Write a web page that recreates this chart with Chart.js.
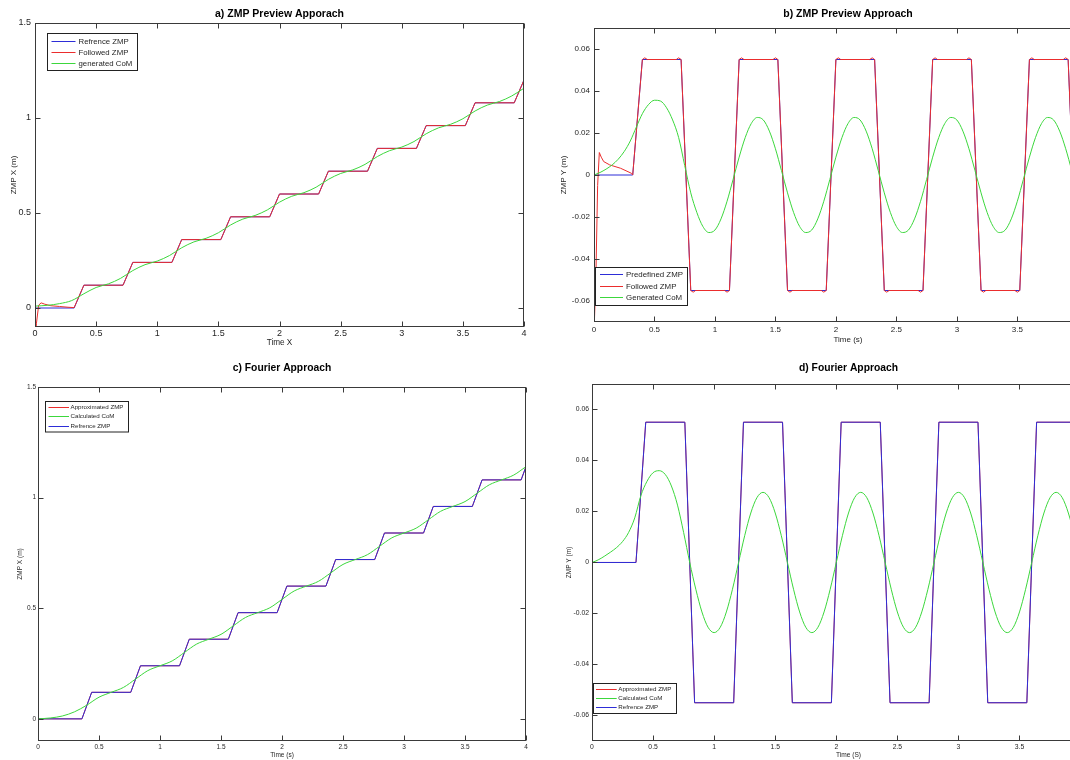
<!DOCTYPE html>
<html>
<head>
<meta charset="utf-8">
<script src="https://cdn.jsdelivr.net/npm/chart.js@4.4.1/dist/chart.umd.min.js"></script>
<style>
  html, body { margin: 0; padding: 0; background: #fff; }
  #fig { position: relative; width: 1070px; height: 760px; overflow: hidden; background: #fff; }
  #fig canvas { position: absolute; }
</style>
</head>
<body>
<div id="fig">
  <canvas id="cA" width="540" height="352" style="left:0;top:0"></canvas>
  <canvas id="cB" width="600" height="352" style="left:540px;top:0"></canvas>
  <canvas id="cC" width="540" height="405" style="left:0;top:355px"></canvas>
  <canvas id="cD" width="600" height="405" style="left:540px;top:355px"></canvas>
</div>
<script>
// ---- data ----
const xTicks = [0, 0.5, 1, 1.5, 2, 2.5, 3, 3.5, 4];
const yTicksX = [0, 0.5, 1, 1.5];
const yTicksY = [-0.06, -0.04, -0.02, 0, 0.02, 0.04, 0.06];

// sample times of the CoM curves
const t10 = [0, 0.1, 0.2, 0.3, 0.4, 0.5, 0.6, 0.7, 0.8, 0.9, 1, 1.1, 1.2, 1.3, 1.4, 1.5, 1.6, 1.7, 1.8, 1.9,
  2, 2.1, 2.2, 2.3, 2.4, 2.5, 2.6, 2.7, 2.8, 2.9, 3, 3.1, 3.2, 3.3, 3.4, 3.5, 3.6, 3.7, 3.8, 3.9, 4];
const t05 = [0, 0.05, 0.1, 0.15, 0.2, 0.25, 0.3, 0.35, 0.4, 0.45, 0.5, 0.55, 0.6, 0.65, 0.7, 0.75, 0.8, 0.85,
  0.9, 0.95, 1, 1.05, 1.1, 1.15, 1.2, 1.25, 1.3, 1.35, 1.4, 1.45, 1.5, 1.55, 1.6, 1.65, 1.7, 1.75, 1.8, 1.85,
  1.9, 1.95, 2, 2.05, 2.1, 2.15, 2.2, 2.25, 2.3, 2.35, 2.4, 2.45, 2.5, 2.55, 2.6, 2.65, 2.7, 2.75, 2.8, 2.85,
  2.9, 2.95, 3, 3.05, 3.1, 3.15, 3.2, 3.25, 3.3, 3.35, 3.4, 3.45, 3.5, 3.55, 3.6, 3.65, 3.7, 3.75, 3.8, 3.85,
  3.9, 3.95, 4];

// a) preview approach, X
const aRefT = [0, 0.32, 0.40, 0.72, 0.80, 1.12, 1.20, 1.52, 1.60, 1.92, 2.00, 2.32, 2.40, 2.72, 2.80, 3.12, 3.20, 3.52, 3.60, 3.92, 4.00];
const aRefX = [0, 0, 0.12, 0.12, 0.24, 0.24, 0.36, 0.36, 0.48, 0.48, 0.60, 0.60, 0.72, 0.72, 0.84, 0.84, 0.96, 0.96, 1.08, 1.08, 1.20];
const aFolT = [0, 0.012, 0.03, 0.05, 0.08, 0.13, 0.2, 0.27, 0.32, 0.40, 0.72, 0.80, 1.12, 1.20, 1.52, 1.60, 1.92, 2.00,
  2.32, 2.40, 2.72, 2.80, 3.12, 3.20, 3.52, 3.60, 3.92, 4.00];
const aFolX = [-0.2, -0.08, 0.015, 0.027, 0.02, 0.012, 0.008, 0.004, 0.002, 0.12, 0.12, 0.24, 0.24, 0.36, 0.36, 0.48, 0.48,
  0.60, 0.60, 0.72, 0.72, 0.84, 0.84, 0.96, 0.96, 1.08, 1.08, 1.20];
const aCom = [0.01, 0.014, 0.023, 0.039, 0.075, 0.108, 0.127, 0.156, 0.197, 0.228, 0.247, 0.276, 0.317, 0.348, 0.367,
  0.396, 0.437, 0.468, 0.487, 0.516, 0.557, 0.588, 0.607, 0.636, 0.677, 0.708, 0.727, 0.756, 0.797, 0.828, 0.847,
  0.876, 0.917, 0.948, 0.967, 0.996, 1.037, 1.068, 1.087, 1.116, 1.157];

// b) preview approach, Y
const bRefT = [0, 0.32, 0.40, 0.72, 0.80, 1.12, 1.20, 1.52, 1.60, 1.92, 2.00, 2.32, 2.40, 2.72, 2.80, 3.12, 3.20, 3.52, 3.60, 3.92, 4.00];
const bRefY = [0, 0, 0.055, 0.055, -0.055, -0.055, 0.055, 0.055, -0.055, -0.055, 0.055, 0.055, -0.055, -0.055,
  0.055, 0.055, -0.055, -0.055, 0.055, 0.055, -0.055];
const bFolT = [0, 0.015, 0.03, 0.044, 0.06, 0.08, 0.13, 0.22, 0.31, 0.32,
  0.40, 0.42, 0.44, 0.68, 0.70, 0.72, 0.80, 0.82, 0.84, 1.08, 1.10, 1.12,
  1.20, 1.22, 1.24, 1.48, 1.50, 1.52, 1.60, 1.62, 1.64, 1.88, 1.90, 1.92,
  2.00, 2.02, 2.04, 2.28, 2.30, 2.32, 2.40, 2.42, 2.44, 2.68, 2.70, 2.72,
  2.80, 2.82, 2.84, 3.08, 3.10, 3.12, 3.20, 3.22, 3.24, 3.48, 3.50, 3.52,
  3.60, 3.62, 3.64, 3.88, 3.90, 3.92, 4.00];
const bFolY = [-0.075, -0.05, -0.005, 0.0107, 0.0085, 0.0064, 0.0048, 0.0032, 0.0008, 0,
  0.055, 0.0558, 0.055, 0.055, 0.0558, 0.055, -0.055, -0.0558, -0.055, -0.055, -0.0558, -0.055,
  0.055, 0.0558, 0.055, 0.055, 0.0558, 0.055, -0.055, -0.0558, -0.055, -0.055, -0.0558, -0.055,
  0.055, 0.0558, 0.055, 0.055, 0.0558, 0.055, -0.055, -0.0558, -0.055, -0.055, -0.0558, -0.055,
  0.055, 0.0558, 0.055, 0.055, 0.0558, 0.055, -0.055, -0.0558, -0.055, -0.055, -0.0558, -0.055,
  0.055, 0.0558, 0.055, 0.055, 0.0558, 0.055, -0.055];
const bCom = [0, 0.0012, 0.0028, 0.0048, 0.0075, 0.0112, 0.0162, 0.0228, 0.0292, 0.0335, 0.0356, 0.0352, 0.0320,
  0.0262, 0.0178, 0.0045, -0.0085,
  -0.0178, -0.0245, -0.0274, -0.0262, -0.0209, -0.0125, -0.0021, 0.0085, 0.0178, 0.0245, 0.0274, 0.0262, 0.0209, 0.0125, 0.0021,
  -0.0085, -0.0178, -0.0245, -0.0274, -0.0262, -0.0209, -0.0125, -0.0021, 0.0085, 0.0178, 0.0245, 0.0274, 0.0262, 0.0209, 0.0125, 0.0021,
  -0.0085, -0.0178, -0.0245, -0.0274, -0.0262, -0.0209, -0.0125, -0.0021, 0.0085, 0.0178, 0.0245, 0.0274, 0.0262, 0.0209, 0.0125, 0.0021,
  -0.0085, -0.0178, -0.0245, -0.0274, -0.0262, -0.0209, -0.0125, -0.0021, 0.0085, 0.0178, 0.0245, 0.0274, 0.0262, 0.0209, 0.0125, 0.0021,
  -0.0085];

// c) fourier approach, X
const cRefT = [0, 0.36, 0.44, 0.76, 0.84, 1.16, 1.24, 1.56, 1.64, 1.96, 2.04, 2.36, 2.44, 2.76, 2.84, 3.16, 3.24, 3.56, 3.64, 3.96, 4.00];
const cRefX = [0, 0, 0.12, 0.12, 0.24, 0.24, 0.36, 0.36, 0.48, 0.48, 0.60, 0.60, 0.72, 0.72, 0.84, 0.84, 0.96, 0.96, 1.08, 1.08, 1.14];
const cCom = [0, 0.004, 0.013, 0.032, 0.062, 0.098, 0.12, 0.142, 0.18, 0.218, 0.24, 0.262, 0.30, 0.338, 0.36, 0.382,
  0.42, 0.458, 0.48, 0.502, 0.54, 0.578, 0.60, 0.622, 0.66, 0.698, 0.72, 0.742, 0.78, 0.818, 0.84, 0.862, 0.90,
  0.938, 0.96, 0.982, 1.02, 1.058, 1.08, 1.102, 1.14];

// d) fourier approach, Y
const dRefT = [0, 0.36, 0.44, 0.76, 0.84, 1.16, 1.24, 1.56, 1.64, 1.96, 2.04, 2.36, 2.44, 2.76, 2.84, 3.16, 3.24, 3.56, 3.64, 3.96, 4.00];
const dRefY = [0, 0, 0.055, 0.055, -0.055, -0.055, 0.055, 0.055, -0.055, -0.055, 0.055, 0.055, -0.055, -0.055,
  0.055, 0.055, -0.055, -0.055, 0.055, 0.055, 0];
const dCom = [0, 0.0010, 0.0024, 0.0040, 0.0058, 0.0082, 0.0118, 0.0175, 0.0262, 0.0318, 0.0352, 0.0360, 0.0345,
  0.0300, 0.0225, 0.0118, 0,
  -0.0105, -0.0194, -0.0254, -0.0275, -0.0254, -0.0194, -0.0105, 0, 0.0105, 0.0194, 0.0254, 0.0275, 0.0254, 0.0194, 0.0105,
  0, -0.0105, -0.0194, -0.0254, -0.0275, -0.0254, -0.0194, -0.0105, 0, 0.0105, 0.0194, 0.0254, 0.0275, 0.0254, 0.0194, 0.0105,
  0, -0.0105, -0.0194, -0.0254, -0.0275, -0.0254, -0.0194, -0.0105, 0, 0.0105, 0.0194, 0.0254, 0.0275, 0.0254, 0.0194, 0.0105,
  0, -0.0105, -0.0194, -0.0254, -0.0275, -0.0254, -0.0194, -0.0105, 0, 0.0105, 0.0194, 0.0254, 0.0275, 0.0254, 0.0194, 0.0105,
  0];

// ---- drawing ----
const SANS = "'Liberation Sans', Arial, Helvetica, sans-serif";
const INK = "#262626";
const BLUE = "rgb(45,45,215)", RED = "rgb(235,45,45)", GREEN = "rgb(60,215,60)";

const $ = id => document.getElementById(id);
const pts = (ts, vs) => ts.map((t, i) => ({ x: t, y: vs[i] }));

// matlab style box with inward ticks on all four sides
const mlBox = {
  id: "mlBox",
  afterDatasetsDraw(chart) {
    const { ctx, chartArea: a, scales: { x, y } } = chart;
    ctx.save();
    ctx.strokeStyle = "#3a3a3a";
    ctx.lineWidth = 1;
    const L = Math.round(a.left) + 0.5, R = Math.round(a.right) - 0.5;
    const T = Math.round(a.top) + 0.5, B = Math.round(a.bottom) - 0.5;
    ctx.strokeRect(L, T, R - L, B - T);
    ctx.beginPath();
    x.ticks.forEach(t => {
      const px = Math.round(x.getPixelForValue(t.value)) + 0.5;
      ctx.moveTo(px, B); ctx.lineTo(px, B - 5);
      ctx.moveTo(px, T); ctx.lineTo(px, T + 5);
    });
    y.ticks.forEach(t => {
      const py = Math.round(y.getPixelForValue(t.value)) + 0.5;
      ctx.moveTo(L, py); ctx.lineTo(L + 5, py);
      ctx.moveTo(R, py); ctx.lineTo(R - 5, py);
    });
    ctx.stroke();
    ctx.restore();
  }
};

// legend box inside the axes, like matlab
const mlLegend = {
  id: "mlLegend",
  afterDraw(chart, args, o) {
    const { ctx, chartArea: a } = chart;
    const x0 = Math.round(a.left + o.x), y0 = Math.round(a.top + o.y);
    ctx.save();
    ctx.fillStyle = "#fff";
    ctx.fillRect(x0, y0, o.w, o.h);
    ctx.strokeStyle = "#222";
    ctx.lineWidth = 1;
    ctx.strokeRect(x0 + 0.5, y0 + 0.5, o.w, o.h);
    ctx.font = o.size + "px " + SANS;
    ctx.textBaseline = "middle";
    chart.data.datasets.forEach((ds, i) => {
      const yy = Math.round(y0 + o.row0 + i * o.rowH) + 0.5;
      ctx.strokeStyle = ds.borderColor;
      ctx.beginPath();
      ctx.moveTo(x0 + o.l0, yy);
      ctx.lineTo(x0 + o.l1, yy);
      ctx.stroke();
      ctx.fillStyle = INK;
      ctx.fillText(ds.label, x0 + o.tx, yy);
    });
    ctx.restore();
  }
};

function panel(id, p) {
  return new Chart($(id), {
    type: "line",
    data: {
      datasets: p.sets.map(s => ({
        label: s.label,
        data: pts(s.t, s.v),
        borderColor: s.color,
        borderWidth: 1,
        pointRadius: 0,
        fill: false,
        clip: 0,
        order: s.order,
        tension: 0,
        cubicInterpolationMode: s.smooth ? "monotone" : "default"
      }))
    },
    options: {
      responsive: false,
      animation: false,
      devicePixelRatio: 1,
      events: [],
      layout: { padding: { left: 0, right: p.padR, top: 0, bottom: 0 } },
      plugins: {
        legend: { display: false },
        tooltip: { enabled: false },
        title: {
          display: true, text: p.title, fullSize: false, color: "#000",
          font: { family: SANS, size: p.titleSize, weight: "bold" },
          padding: { top: p.titlePad[0], bottom: p.titlePad[1] }
        },
        mlLegend: p.legend
      },
      scales: {
        x: {
          type: "linear", min: 0, max: p.xMax,
          afterBuildTicks: s => { s.ticks = xTicks.map(v => ({ value: v })); },
          afterFit: s => { s.height = p.xH; },
          grid: { display: false, drawTicks: false },
          border: { display: false },
          ticks: {
            autoSkip: false, maxRotation: 0, padding: p.xTickPad, color: INK,
            font: { family: SANS, size: p.tickSize }, callback: v => String(v)
          },
          title: {
            display: true, text: p.xLabel, color: INK,
            font: { family: SANS, size: p.xTitleSize },
            padding: { top: 0, bottom: p.xTitlePad }
          }
        },
        y: {
          type: "linear", min: p.yMin, max: p.yMax,
          afterBuildTicks: s => { s.ticks = p.yTicks.map(v => ({ value: v })); },
          afterFit: s => { s.width = p.yW; },
          grid: { display: false, drawTicks: false },
          border: { display: false },
          ticks: {
            autoSkip: false, padding: p.yTickPad, color: INK,
            font: { family: SANS, size: p.tickSize }, callback: v => String(v)
          },
          title: {
            display: true, text: p.yLabel, color: INK,
            font: { family: SANS, size: p.yTitleSize },
            padding: { top: p.yTitlePad, bottom: 0 }
          }
        }
      }
    },
    plugins: [mlBox, mlLegend]
  });
}

panel("cA", {
  title: "a) ZMP Preview Apporach", xLabel: "Time X", yLabel: "ZMP X (m)",
  xMax: 4, yMin: -0.1, yMax: 1.5, yTicks: yTicksX,
  padR: 16, yW: 35, xH: 25, titleSize: 10.5, titlePad: [7.5, 2.9],
  tickSize: 9, xTickPad: 1.5, yTickPad: 4, xTitleSize: 8.2, xTitlePad: 4, yTitleSize: 8, yTitlePad: 9.2,
  legend: { x: 11.5, y: 10, w: 90, h: 37, row0: 8, rowH: 11, l0: 4.5, l1: 28.5, tx: 31.5, size: 7.8 },
  sets: [
    { label: "Refrence ZMP", t: aRefT, v: aRefX, color: BLUE, order: 2 },
    { label: "Followed ZMP", t: aFolT, v: aFolX, color: RED, order: 1 },
    { label: "generated CoM", t: t10, v: aCom, color: GREEN, order: 0, smooth: true }
  ]
});

panel("cB", {
  title: "b) ZMP Preview Approach", xLabel: "Time (s)", yLabel: "ZMP Y (m)",
  xMax: 4.2, yMin: -0.07, yMax: 0.07, yTicks: yTicksY,
  padR: 38, yW: 54, xH: 30, titleSize: 10.5, titlePad: [7.7, 7.7],
  tickSize: 8, xTickPad: 3.2, yTickPad: 4, xTitleSize: 8, xTitlePad: 7.2, yTitleSize: 8, yTitlePad: 19.2,
  legend: { x: 1, y: 239, w: 92, h: 38, row0: 7, rowH: 11.7, l0: 5, l1: 28, tx: 31, size: 7.9 },
  sets: [
    { label: "Predefined ZMP", t: bRefT, v: bRefY, color: BLUE, order: 2 },
    { label: "Followed ZMP", t: bFolT, v: bFolY, color: RED, order: 1 },
    { label: "Generated CoM", t: t05, v: bCom, color: GREEN, order: 0, smooth: true }
  ]
});

panel("cC", {
  title: "c) Fourier Approach", xLabel: "Time (s)", yLabel: "ZMP X (m)",
  xMax: 4, yMin: -0.1, yMax: 1.5, yTicks: yTicksX,
  padR: 14, yW: 38, xH: 19, titleSize: 10.3, titlePad: [7.1, 12.5],
  tickSize: 6.5, xTickPad: 2.3, yTickPad: 2, xTitleSize: 6.5, xTitlePad: 1, yTitleSize: 6.5, yTitlePad: 16.8,
  legend: { x: 7, y: 14, w: 83, h: 30.5, row0: 6, rowH: 9.3, l0: 3.5, l1: 24, tx: 25.5, size: 6.2 },
  sets: [
    { label: "Approximated ZMP", t: cRefT, v: cRefX, color: RED, order: 2 },
    { label: "Calculated CoM", t: t10, v: cCom, color: GREEN, order: 0, smooth: true },
    { label: "Refrence ZMP", t: cRefT, v: cRefX, color: BLUE, order: 1 }
  ]
});

panel("cD", {
  title: "d) Fourier Approach", xLabel: "Time (S)", yLabel: "ZMP Y (m)",
  xMax: 4.2, yMin: -0.07, yMax: 0.07, yTicks: yTicksY,
  padR: 35, yW: 52, xH: 19, titleSize: 10.3, titlePad: [6.8, 9.8],
  tickSize: 6.8, xTickPad: 2.2, yTickPad: 3, xTitleSize: 6.6, xTitlePad: 1, yTitleSize: 6.5, yTitlePad: 25.8,
  legend: { x: 1, y: 299, w: 83, h: 30, row0: 6, rowH: 9, l0: 3, l1: 23.7, tx: 25.3, size: 6.2 },
  sets: [
    { label: "Approximated ZMP", t: dRefT, v: dRefY, color: RED, order: 2 },
    { label: "Calculated CoM", t: t05, v: dCom, color: GREEN, order: 0, smooth: true },
    { label: "Refrence ZMP", t: dRefT, v: dRefY, color: BLUE, order: 1 }
  ]
});
</script>
</body>
</html>
